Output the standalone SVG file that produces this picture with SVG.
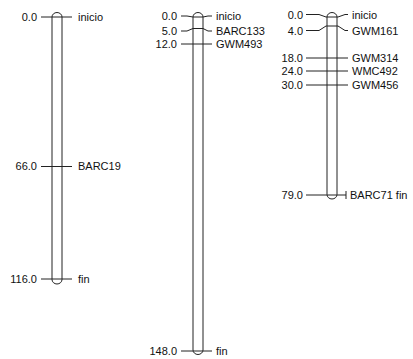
<svg xmlns="http://www.w3.org/2000/svg" width="413" height="359" viewBox="0 0 413 359">
<style>
.bar{fill:#fff;stroke:#222;stroke-width:1}
.tk{fill:none;stroke:#222;stroke-width:1}
text{font-family:"Liberation Sans",Arial,sans-serif;font-size:11px;fill:#111}
.n{text-anchor:end}
</style>
<rect width="413" height="359" fill="#fff"/>
<g id="chr1">
<rect class="bar" x="52" y="12.5" width="10" height="271.5" rx="5" ry="4.5"/>
<text class="n" x="37" y="21">0.0</text><text x="78" y="21">inicio</text>
<text class="n" x="37" y="170">66.0</text><text x="78" y="170">BARC19</text>
<text class="n" x="37" y="283">116.0</text><text x="78" y="283">fin</text>
</g>
<g id="chr2">
<rect class="bar" x="193" y="12.5" width="10" height="342" rx="5" ry="4.5"/>
<text class="n" x="177" y="20">0.0</text><text x="216" y="20">inicio</text>
<text class="n" x="177" y="35">5.0</text><text x="216" y="35">BARC133</text>
<text class="n" x="177" y="48">12.0</text><text x="216" y="48">GWM493</text>
<text class="n" x="177" y="355">148.0</text><text x="216" y="355">fin</text>
</g>
<g id="chr3">
<rect class="bar" x="327" y="12.5" width="10" height="186.5" rx="5" ry="4.5"/>
<text class="n" x="303" y="19">0.0</text><text x="352" y="19">inicio</text>
<text class="n" x="303" y="35">4.0</text><text x="352" y="35">GWM161</text>
<text class="n" x="303" y="62">18.0</text><text x="352" y="62">GWM314</text>
<text class="n" x="303" y="75">24.0</text><text x="352" y="75">WMC492</text>
<text class="n" x="303" y="89">30.0</text><text x="352" y="89">GWM456</text>
<text class="n" x="303" y="199">79.0</text><text x="350" y="199">BARC71 fin</text>
</g>
<g id="connectors">
<path class="tk" d="M41 17H72M41 166.5H72M41 279H72"/>
<path class="tk" d="M181 16H187L193 17H203L208 16H212"/>
<path class="tk" d="M181 31H187L193 28.5H203L208 31H212"/>
<path class="tk" d="M181 44H212M181 351H212"/>
<path class="tk" d="M306 14.5H319L326 17H338L345 14.5H348"/>
<path class="tk" d="M306 30.5H319L326 26H338L345 30.5H348"/>
<path class="tk" d="M306 58H348M306 71H348M306 85H348M306 195H346M346 191V199"/>
</g>
</svg>
